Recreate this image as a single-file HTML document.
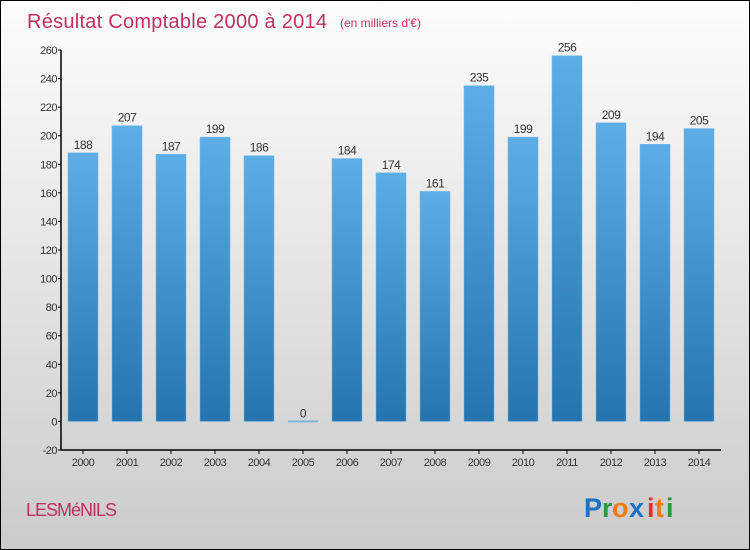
<!DOCTYPE html>
<html><head><meta charset="utf-8"><style>
body{margin:0}
#c{width:748px;height:548px;border:1px solid #000;background:linear-gradient(#fdfdfd,#cbcbcb);position:relative;font-family:"Liberation Sans",sans-serif;overflow:hidden}
</style></head><body>
<div id="c">
<svg width="748" height="548" viewBox="1 1 748 548" id="svg">
<defs><linearGradient id="bg" x1="0" y1="0" x2="0" y2="1"><stop offset="0" stop-color="#5dade6"/><stop offset="1" stop-color="#2574b0"/></linearGradient></defs>
<text x="27" y="28" font-size="20" fill="#c0305e" textLength="300">Résultat Comptable 2000 à 2014</text>
<text x="340" y="27" font-size="12" fill="#c0305e">(en milliers d'€)</text>
<text x="26" y="516" font-size="18" fill="#c0305e" letter-spacing="-1">LESMéNILS</text>
<g font-size="27" font-weight="bold" font-family="'Liberation Sans',sans-serif">
<text x="584" y="517" fill="#1a73c9">P</text><text x="602" y="517" fill="#2a9a3a">r</text><text x="612" y="517" fill="#f07a10">o</text><text x="629" y="517" fill="#1a73c9">x</text><text x="647" y="517" fill="#e03030">i</text><text x="655" y="517" fill="#f07a10">t</text><text x="666" y="517" fill="#2a9a3a">i</text>
</g>
<g id="plot"></g>
</svg>
</div>
<script>
const years=["2000","2001","2002","2003","2004","2005","2006","2007","2008","2009","2010","2011","2012","2013","2014"];
const values=[188,207,187,199,186,0,184,174,161,235,199,256,209,194,205];
const yTicks=[-20,0,20,40,60,80,100,120,140,160,180,200,220,240,260];
const NS="http://www.w3.org/2000/svg";
const g=document.getElementById('plot');
const y=v=>450-(v+20)*400/280;
const x=i=>83+i*44;
function mk(t,a){const e=document.createElementNS(NS,t);for(const k in a)e.setAttribute(k,a[k]);g.appendChild(e);return e;}
let e;
e=mk('line',{x1:61,y1:y(260),x2:61,y2:450,stroke:'#000','stroke-width':1.5});


e=mk('line',{x1:61,y1:450,x2:721,y2:450,stroke:'#000','stroke-width':1.5});


yTicks.forEach(t=>{
 mk('line',{x1:58,y1:y(t),x2:61,y2:y(t),stroke:'#000'});
 e=mk('text',{x:57,y:y(t)+4,'font-size':11,'text-anchor':'end',fill:'#333','letter-spacing':'-0.5'});e.textContent=t;
 
 
});
years.forEach((yr,i)=>{
 const v=values[i];
 mk('line',{x1:x(i),y1:450,x2:x(i),y2:454,stroke:'#000'});
 e=mk('text',{x:x(i),y:466,'font-size':11,'text-anchor':'middle',fill:'#333','letter-spacing':'-0.5'});e.textContent=yr;
 
 
 if(v===0){e=mk('rect',{x:x(i)-15,y:y(0)-1,width:30,height:2,fill:'#7ab8e0'});}
 else{e=mk('rect',{x:x(i)-15,y:y(v),width:30,height:y(0)-y(v),fill:'url(#bg)',stroke:'#6bb6ea','stroke-width':0.5});}
 
 
 e=mk('text',{x:x(i),y:y(v)-4,'font-size':12,'text-anchor':'middle',fill:'#333','letter-spacing':'-0.5'});e.textContent=v;
 
 
});
</script>
</body></html>
